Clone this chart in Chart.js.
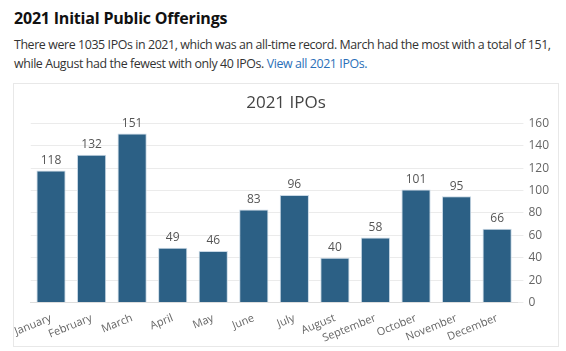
<!DOCTYPE html>
<html>
<head>
<meta charset="utf-8">
<script src="https://cdn.jsdelivr.net/npm/chart.js@4"></script>
<style>
  body { margin: 0; background: #fff; font-family: "Open Sans", sans-serif; color: #222; }
  h2 { position: absolute; left: 14px; top: 7px; margin: 0; font-size: 16px; letter-spacing: -0.2px; font-weight: 700; color: #111; white-space: nowrap; }
  p { position: absolute; left: 14px; top: 35px; margin: 0; font-size: 12.4px; letter-spacing: -0.4px; line-height: 19px; color: #333; white-space: nowrap; }
  a { color: #2a6fb8; text-decoration: none; }
  .box { position: absolute; left: 13px; top: 83px; width: 544px; height: 262px; border: 1px solid #e8e8e8; }
</style>
</head>
<body>
<h2>2021 Initial Public Offerings</h2>
<p>There were 1035 IPOs in 2021, which was an all-time record. March had the most with a total of 151,<br>while August had the fewest with only 40 IPOs. <a href="#">View all 2021 IPOs.</a></p>
<div class="box"><canvas id="chart"></canvas></div>
<script>
const months = ["January", "February", "March", "April", "May", "June",
  "July", "August", "September", "October", "November", "December"];
const ipoCounts = [118, 132, 151, 49, 46, 83, 96, 40, 58, 101, 95, 66];
const yTicks = [0, 20, 40, 60, 80, 100, 120, 140, 160];

Chart.defaults.font.family = '"Open Sans", sans-serif';

// draws the value above each bar
const valueLabels = {
  id: "valueLabels",
  afterDatasetsDraw(chart) {
    const ctx = chart.ctx;
    const meta = chart.getDatasetMeta(0);
    ctx.save();
    ctx.font = '12px "Open Sans", sans-serif';
    ctx.fillStyle = "#555";
    ctx.textAlign = "center";
    ctx.textBaseline = "bottom";
    meta.data.forEach((bar, i) => {
      ctx.fillText(ipoCounts[i], bar.x, bar.y - 4);
    });
    ctx.restore();
  },
};

new Chart(document.getElementById("chart"), {
  type: "bar",
  data: {
    labels: months,
    datasets: [
      {
        data: ipoCounts,
        backgroundColor: "#2c6085",
        borderColor: "#c8d8e5",
        borderWidth: 1,
      },
    ],
  },
  options: {
    animation: false,
    responsive: true,
    maintainAspectRatio: false,
    layout: { padding: { top: 0, right: 4, bottom: 0, left: 4 } },
    plugins: {
      legend: { display: false },
      tooltip: { enabled: false },
      title: {
        display: true,
        text: "2021 IPOs",
        color: "#444",
        font: { size: 17, weight: "normal" },
        padding: { top: 9, bottom: 10 },
      },
    },
    scales: {
      x: {
        grid: { display: false },
        border: { color: "#ddd" },
        ticks: { color: "#666", font: { size: 11 }, autoSkip: false, minRotation: 22, maxRotation: 22, padding: 1 },
      },
      y: {
        position: "right",
        min: 0,
        max: 160,
        afterBuildTicks: (axis) => { axis.ticks = yTicks.map((v) => ({ value: v })); },
        grid: { color: "#ebebeb", tickLength: 6 },
        border: { display: false },
        ticks: { color: "#666", font: { size: 12 }, padding: 5 },
      },
    },
  },
  plugins: [valueLabels],
});
</script>
</body>
</html>
